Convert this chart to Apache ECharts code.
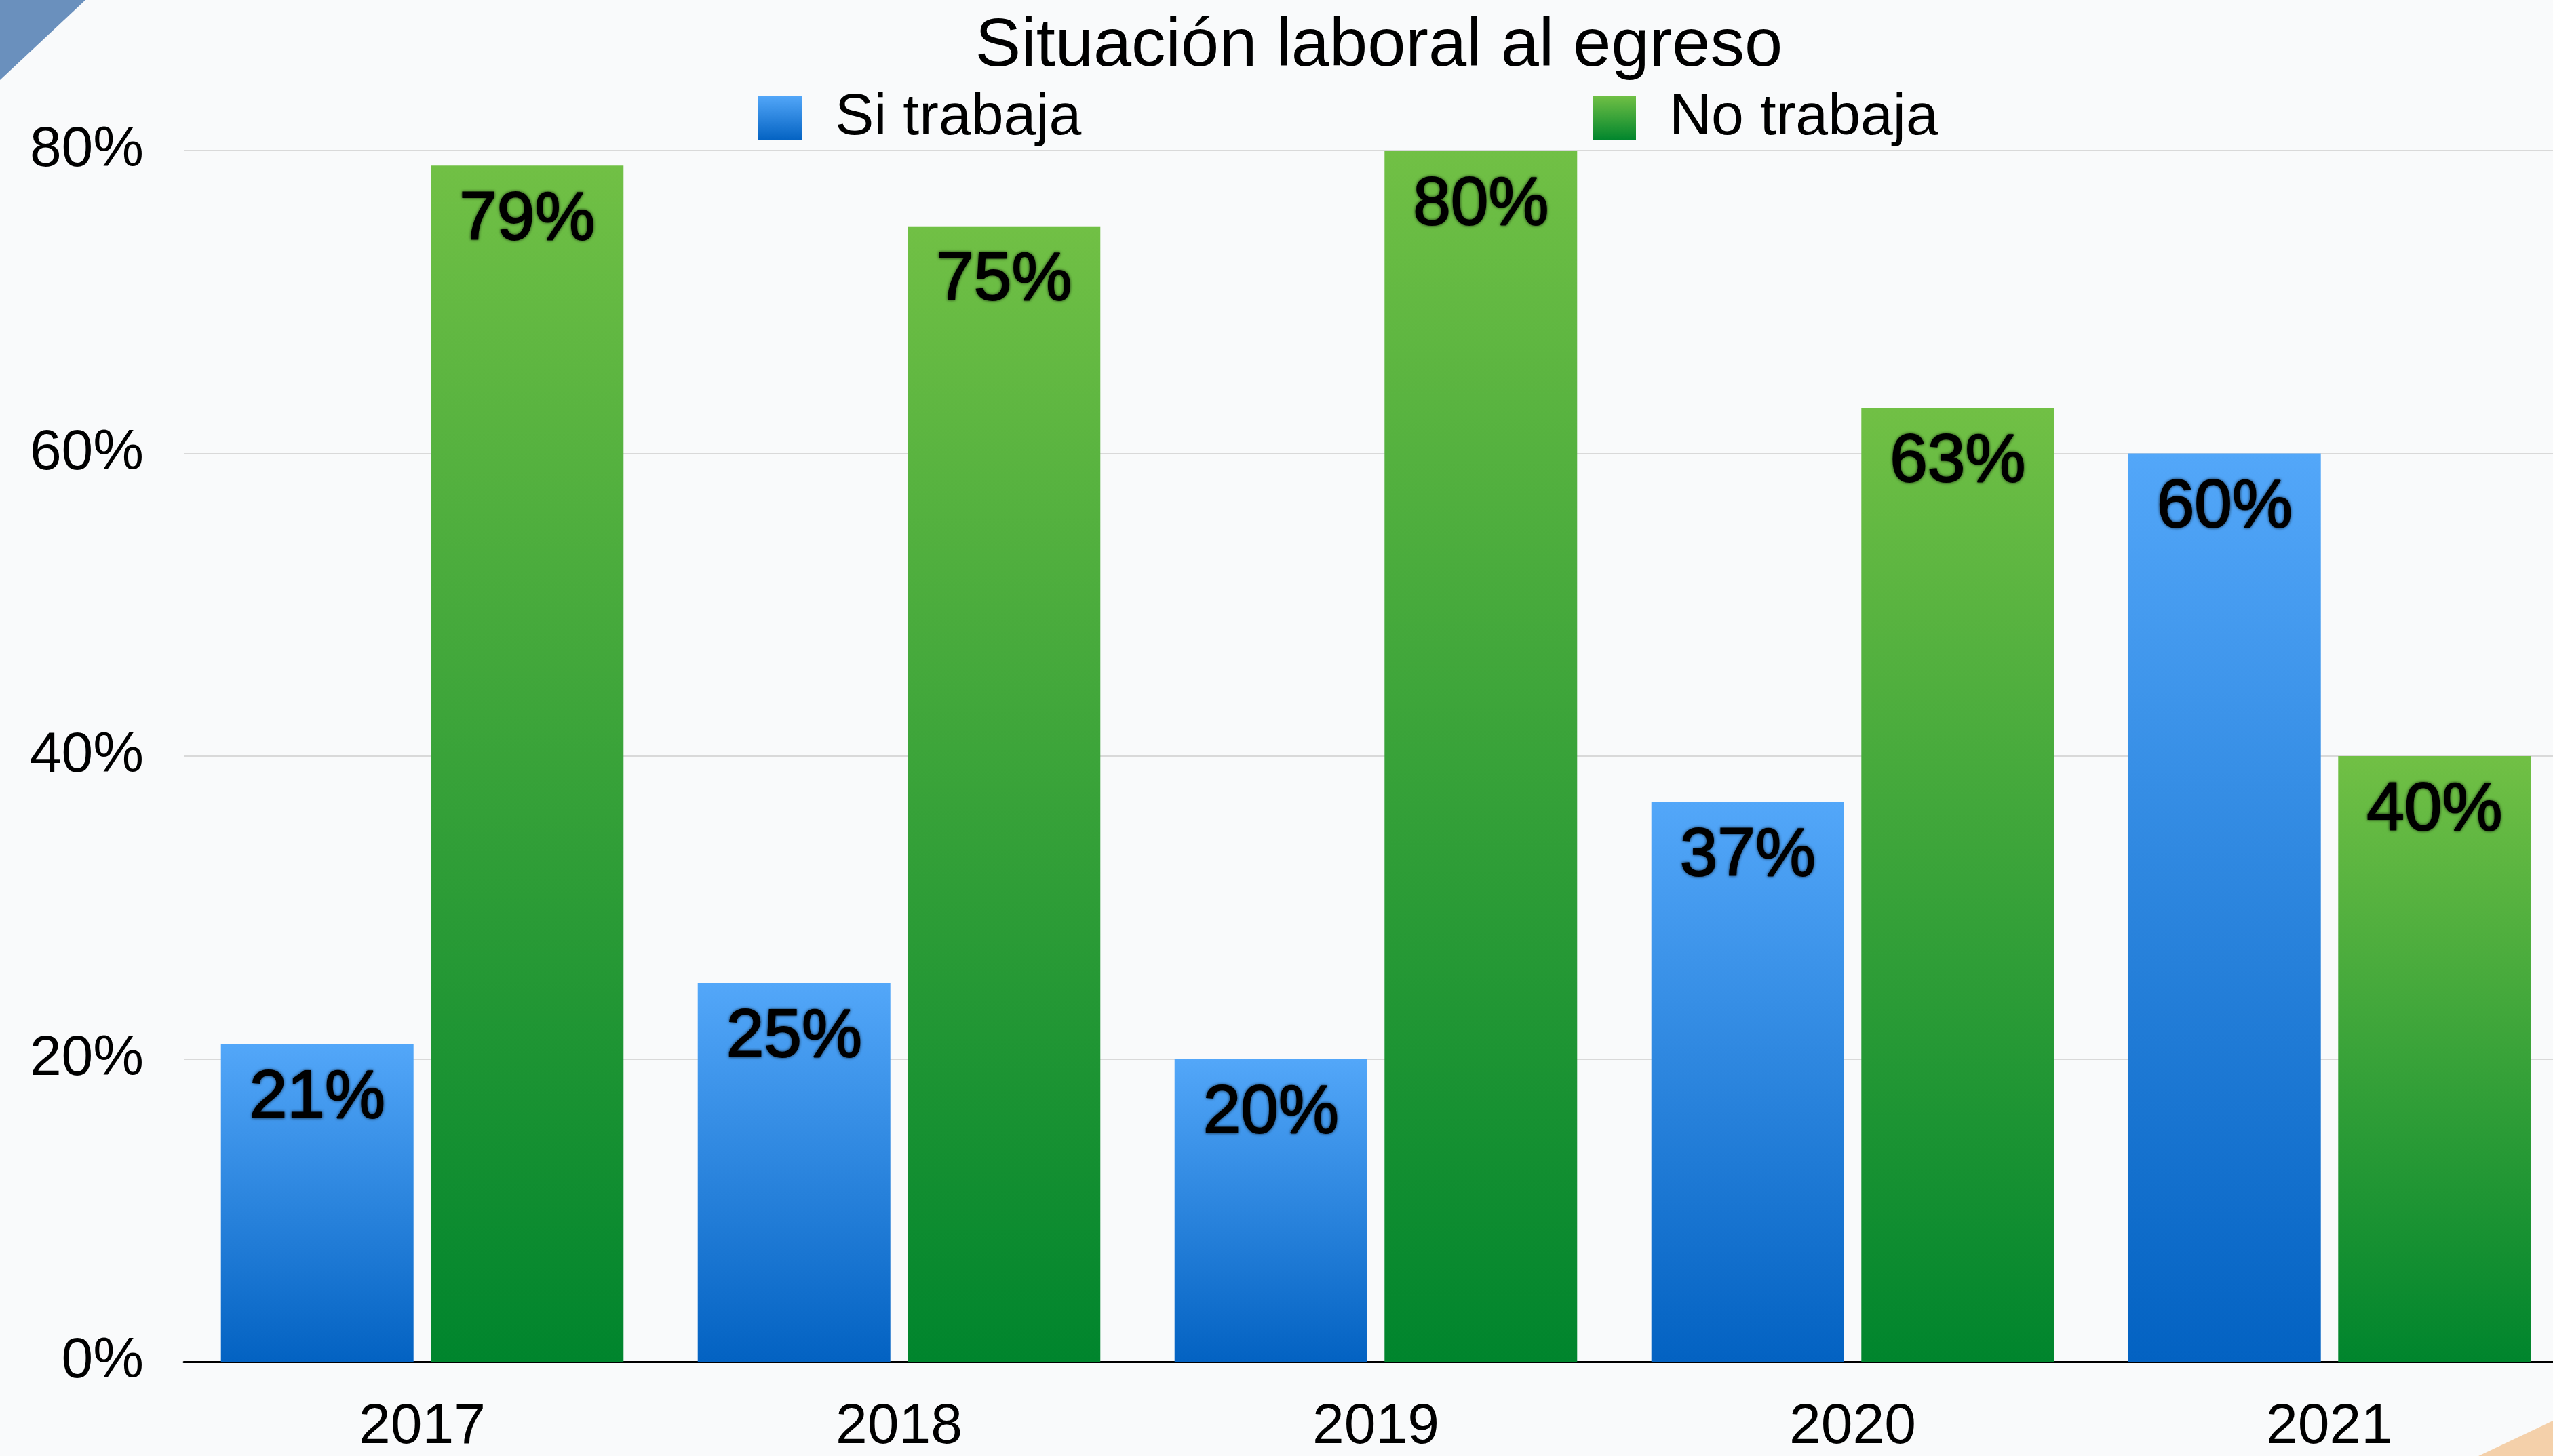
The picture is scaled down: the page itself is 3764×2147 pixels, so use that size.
<!DOCTYPE html>
<html>
<head>
<meta charset="utf-8">
<script src="https://cdn.jsdelivr.net/npm/echarts@6/dist/echarts.min.js"></script>
<style>
  html, body { margin: 0; padding: 0; background: #f9fafb; overflow: hidden; }
  #chart { width: 3820px; height: 2147px; }
</style>
</head>
<body>
<div id="chart"></div>
<script>
const years = ['2017', '2018', '2019', '2020', '2021']
const siTrabaja = [21, 25, 20, 37, 60]
const noTrabaja = [79, 75, 80, 63, 40]
const seriesNames = ['Si trabaja', 'No trabaja']

const font = 'Liberation Sans, Arial, Helvetica, sans-serif'

const blueGrad = new echarts.graphic.LinearGradient(0, 0, 0, 1, [
  { offset: 0, color: '#53a7f9' },
  { offset: 1, color: '#0362c2' }
])
const greenGrad = new echarts.graphic.LinearGradient(0, 0, 0, 1, [
  { offset: 0, color: '#71c045' },
  { offset: 1, color: '#00852d' }
])

const labelStyle = {
  show: true,
  position: 'insideTop',
  distance: 31,
  formatter: '{c}%',
  fontFamily: font,
  fontSize: 100,
  color: '#000',
  textBorderColor: '#000',
  textBorderWidth: 2,
  textShadowColor: 'rgba(0,0,0,0.6)',
  textShadowBlur: 4
}

const chart = echarts.init(document.getElementById('chart'))
chart.setOption({
  backgroundColor: '#f9fafb',
  animation: false,
  title: {
    text: 'Situación laboral al egreso',
    left: 2028,
    textAlign: 'center',
    top: 14,
    textStyle: { fontFamily: font, fontSize: 101, fontWeight: 'normal', color: '#000' }
  },
  legend: [
    {
      data: [seriesNames[0]],
      left: 1113,
      top: 126,
      icon: 'rect',
      itemWidth: 64,
      itemHeight: 66,
      textStyle: { fontFamily: font, fontSize: 86, color: '#000', padding: [4, 0, 0, 44] }
    },
    {
      data: [seriesNames[1]],
      left: 2343,
      top: 126,
      icon: 'rect',
      itemWidth: 64,
      itemHeight: 66,
      textStyle: { fontFamily: font, fontSize: 86, color: '#000', padding: [4, 0, 0, 44] }
    }
  ],
  graphic: [
    {
      type: 'polygon',
      shape: { points: [[0, 0], [126, 0], [0, 118]] },
      style: { fill: '#6a90bd' },
      z: -1
    },
    {
      type: 'polygon',
      shape: { points: [[3654, 2147], [3764, 2095], [3764, 2147]] },
      style: { fill: '#f4d0aa' },
      z: -1
    }
  ],
  grid: {
    left: 271,
    top: 222,
    width: 3515,
    bottom: 134,
    containLabel: false
  },
  xAxis: {
    type: 'category',
    data: years,
    axisLine: { lineStyle: { color: '#000', width: 3 } },
    axisTick: { show: false },
    axisLabel: { fontFamily: font, fontSize: 84, color: '#000', margin: 55 }
  },
  yAxis: {
    type: 'value',
    min: 0,
    max: 80,
    interval: 20,
    axisLine: { show: false },
    axisTick: { show: false },
    splitLine: { lineStyle: { color: '#d9d9d9', width: 2 } },
    axisLabel: {
      fontFamily: font, fontSize: 84, color: '#000', margin: 59,
      padding: [28, 0, 0, 0], formatter: '{value}%'
    }
  },
  series: [
    {
      name: seriesNames[0],
      type: 'bar',
      data: siTrabaja,
      barWidth: 284,
      barGap: '9%',
      itemStyle: { color: blueGrad },
      label: labelStyle
    },
    {
      name: seriesNames[1],
      type: 'bar',
      data: noTrabaja,
      barWidth: 284,
      barGap: '9%',
      itemStyle: { color: greenGrad },
      label: labelStyle
    }
  ]
})
</script>
</body>
</html>
